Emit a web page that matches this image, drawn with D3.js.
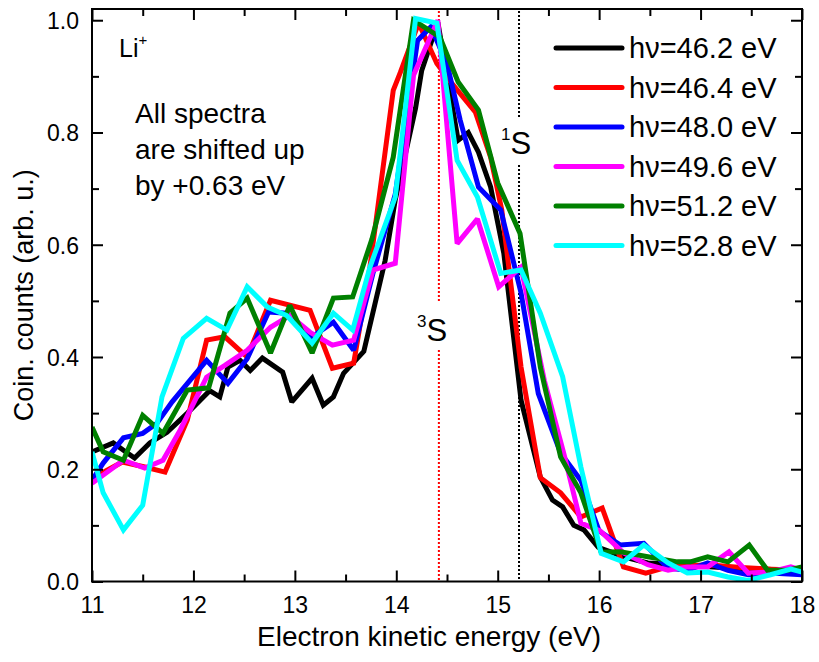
<!DOCTYPE html>
<html><head><meta charset="utf-8">
<script src="https://cdn.jsdelivr.net/npm/d3@7"></script>
<style>body{margin:0;background:#fff;} text{font-family:"Liberation Sans",Arial,sans-serif;}</style>
</head><body><svg id="c" width="819" height="662"></svg>
<script>
const seriesLabels = ["hν=46.2 eV","hν=46.4 eV","hν=48.0 eV","hν=49.6 eV","hν=51.2 eV","hν=52.8 eV"];
const seriesColors = ["#000000","#ff0000","#0000ff","#ff00ff","#008000","#00ffff"];

const x462 = [11.0,11.21,11.31,11.42,11.57,11.74,11.94,12.16,12.26,12.34,12.46,12.56,12.68,12.88,12.97,13.17,13.28,13.38,13.48,13.68,13.89,13.99,14.19,14.25,14.41,14.61,14.71,14.81,14.93,15.06,15.23,15.42,15.54,15.64,15.75,15.85,15.99,16.14,16.24,16.48,16.8,17.2,17.6,18.0];
const y462 = [0.231,0.247,0.234,0.22,0.247,0.266,0.30,0.34,0.329,0.382,0.394,0.376,0.398,0.373,0.32,0.362,0.314,0.329,0.371,0.41,0.572,0.68,0.843,0.91,0.996,0.786,0.80,0.765,0.703,0.585,0.323,0.186,0.145,0.133,0.10,0.092,0.061,0.051,0.044,0.033,0.03,0.025,0.022,0.02];

const x464 = [11.0,11.3,11.52,11.72,11.94,12.13,12.31,12.53,12.76,13.15,13.37,13.58,13.74,13.97,14.04,14.22,14.40,14.55,14.78,14.93,15.04,15.23,15.42,15.62,15.82,16.03,16.24,16.46,16.68,17.07,17.4,17.7,18.0];
const y464 = [0.184,0.213,0.204,0.195,0.288,0.43,0.436,0.40,0.501,0.483,0.38,0.389,0.56,0.875,0.907,0.995,0.923,0.887,0.836,0.756,0.662,0.382,0.185,0.158,0.115,0.131,0.026,0.015,0.026,0.03,0.025,0.022,0.02];

const x480 = [11.0,11.11,11.31,11.5,11.64,11.79,12.13,12.34,12.53,12.74,12.92,13.17,13.38,13.58,13.77,13.99,14.21,14.34,14.5,14.63,14.81,15.03,15.23,15.40,15.62,15.82,16.0,16.21,16.44,16.68,16.87,17.07,17.27,17.47,17.69,18.0];
const y480 = [0.18,0.211,0.256,0.264,0.282,0.32,0.394,0.353,0.397,0.48,0.478,0.436,0.462,0.412,0.549,0.69,0.964,0.988,0.923,0.822,0.703,0.662,0.514,0.335,0.229,0.18,0.09,0.065,0.068,0.024,0.02,0.033,0.02,0.012,0.015,0.012];

const x496 = [11.0,11.31,11.52,11.7,11.87,12.13,12.31,12.53,12.76,12.95,13.15,13.37,13.58,13.77,13.99,14.17,14.41,14.6,14.8,15.01,15.23,15.46,15.65,15.82,16.01,16.24,16.48,16.68,16.87,17.07,17.28,17.47,17.69,17.89,18.0];
const y496 = [0.175,0.216,0.202,0.216,0.27,0.364,0.385,0.412,0.453,0.474,0.444,0.421,0.43,0.555,0.567,0.902,1.0,0.602,0.646,0.525,0.56,0.358,0.229,0.104,0.09,0.051,0.03,0.02,0.026,0.026,0.053,0.015,0.017,0.026,0.02];

const x512 = [11.0,11.11,11.31,11.5,11.7,11.94,12.15,12.36,12.53,12.76,12.95,13.17,13.38,13.57,13.76,13.97,14.17,14.43,14.61,14.81,15.0,15.22,15.32,15.42,15.62,15.82,16.02,16.21,16.48,16.77,16.9,17.07,17.27,17.48,17.66,17.86,18.0];
const y512 = [0.275,0.231,0.216,0.296,0.264,0.341,0.345,0.478,0.505,0.407,0.492,0.407,0.505,0.507,0.61,0.756,1.0,0.97,0.89,0.84,0.71,0.62,0.501,0.382,0.222,0.158,0.052,0.053,0.044,0.035,0.035,0.044,0.035,0.065,0.02,0.02,0.026];

const x528 = [11.0,11.11,11.31,11.5,11.69,11.9,12.13,12.33,12.53,12.73,12.92,13.17,13.38,13.57,13.74,13.99,14.19,14.4,14.6,14.8,15.03,15.23,15.42,15.64,15.82,16.02,16.24,16.44,16.68,16.87,17.07,17.27,17.47,17.69,17.89,18.0];
const y528 = [0.231,0.158,0.092,0.136,0.329,0.433,0.469,0.448,0.525,0.489,0.474,0.425,0.478,0.448,0.56,0.685,1.003,0.995,0.75,0.685,0.549,0.555,0.478,0.365,0.204,0.05,0.035,0.065,0.033,0.015,0.017,0.008,0.002,0.012,0.022,0.017];

const xTicks = [11,12,13,14,15,16,17,18];
const yTicks = [0.0,0.2,0.4,0.6,0.8,1.0];
const lineS3 = 14.42, lineS1 = 15.21;

const seriesX = [x462,x464,x480,x496,x512,x528];
const seriesY = [y462,y464,y480,y496,y512,y528];

const svg = d3.select("#c");
const L = 92, R = 802, T = 9, B = 581.5;
const x = d3.scaleLinear().domain([11,18]).range([L,R]);
const y = d3.scaleLinear().domain([0,1.02]).range([B,T]);

svg.append("defs").append("clipPath").attr("id","clip").append("rect")
  .attr("x",L).attr("y",T).attr("width",R-L).attr("height",B-T);

function refLine(xv, color, gapTop, gapBot){
  const g = svg.append("g");
  [[T+2, gapTop],[gapBot, B]].forEach(([a,b])=>{
    g.append("line").attr("x1",x(xv)).attr("x2",x(xv)).attr("y1",a).attr("y2",b)
     .attr("stroke",color).attr("stroke-width",2).attr("stroke-dasharray","2,2");
  });
}
refLine(lineS3, "#ff0000", 303, 350);
refLine(lineS1, "#000000", 117, 165);

const line = d3.line().x(d=>x(d[0])).y(d=>y(d[1]));
const gl = svg.append("g").attr("clip-path","url(#clip)");
seriesX.forEach((xs,i)=>{
  const pts = xs.map((v,j)=>[v, seriesY[i][j]]);
  gl.append("path").datum(pts).attr("d",line).attr("fill","none")
    .attr("stroke",seriesColors[i]).attr("stroke-width",5).attr("stroke-linejoin","miter").attr("stroke-miterlimit",2);
});

const minorX = d3.range(11,18.01,0.5).filter(v=>!xTicks.includes(v));
const minorY = d3.range(0,1.01,0.1).map(v=>+v.toFixed(1)).filter(v=>!yTicks.includes(v));
svg.append("g").attr("transform",`translate(0,${B})`)
  .call(d3.axisBottom(x).tickValues(xTicks).tickSize(-11).tickPadding(15).tickFormat(d3.format("d")));
svg.append("g").attr("transform",`translate(0,${T})`)
  .call(d3.axisTop(x).tickValues(xTicks).tickSize(-11).tickFormat(""));
const axL = svg.append("g").attr("transform",`translate(${L},0)`)
  .call(d3.axisLeft(y).tickValues(yTicks).tickSize(-11).tickPadding(13).tickFormat(d3.format(".1f")));
svg.append("g").attr("transform",`translate(${R},0)`)
  .call(d3.axisRight(y).tickValues(yTicks).tickSize(-11).tickFormat(""));
svg.append("g").attr("transform",`translate(0,${B})`).call(d3.axisBottom(x).tickValues(minorX).tickSize(-7).tickFormat(""));
svg.append("g").attr("transform",`translate(0,${T})`).call(d3.axisTop(x).tickValues(minorX).tickSize(-7).tickFormat(""));
svg.append("g").attr("transform",`translate(${L},0)`).call(d3.axisLeft(y).tickValues(minorY).tickSize(-7).tickFormat(""));
svg.append("g").attr("transform",`translate(${R},0)`).call(d3.axisRight(y).tickValues(minorY).tickSize(-7).tickFormat(""));
svg.selectAll(".domain").remove();
svg.selectAll(".tick line").attr("stroke","#000").attr("stroke-width",2);
svg.selectAll(".tick text").attr("font-size",23).attr("fill","#000").attr("font-family","Liberation Sans, Arial, sans-serif");
axL.selectAll(".tick text").attr("dy","0.36em");
svg.append("rect").attr("x",L).attr("y",T).attr("width",R-L).attr("height",B-T)
  .attr("fill","none").attr("stroke","#000").attr("stroke-width",2);

svg.append("text").attr("x",429).attr("y",646).attr("text-anchor","middle")
  .attr("font-size",28).text("Electron kinetic energy (eV)");
svg.append("text").attr("transform",`translate(33,${(T+B)/2}) rotate(-90)`).attr("text-anchor","middle")
  .attr("font-size",27).text("Coin. counts (arb. u.)");

const li = svg.append("text").attr("x",119).attr("y",57).attr("font-size",25);
li.append("tspan").text("Li");
li.append("tspan").attr("font-size",15).attr("dy",-12).text("+");
["All spectra","are shifted up","by +0.63 eV"].forEach((t,i)=>{
  svg.append("text").attr("x",135).attr("y",123+i*36).attr("font-size",28).text(t);
});
function stateLabel(xp, yp, sup){
  const t = svg.append("text").attr("x",xp).attr("y",yp).attr("font-size",31);
  t.append("tspan").attr("font-size",17).attr("dy",-14).text(sup);
  t.append("tspan").attr("dy",14).text("S");
}
stateLabel(417, 341, "3");
stateLabel(501, 154, "1");

const lg = svg.append("g");
seriesLabels.forEach((s,i)=>{
  const yy = 48 + i*39.5;
  lg.append("line").attr("x1",556).attr("x2",622).attr("y1",yy).attr("y2",yy)
    .attr("stroke",seriesColors[i]).attr("stroke-width",5).attr("stroke-linecap","round");
  lg.append("text").attr("x",629).attr("y",yy+10).attr("font-size",29).text(s);
});
</script></body></html>
